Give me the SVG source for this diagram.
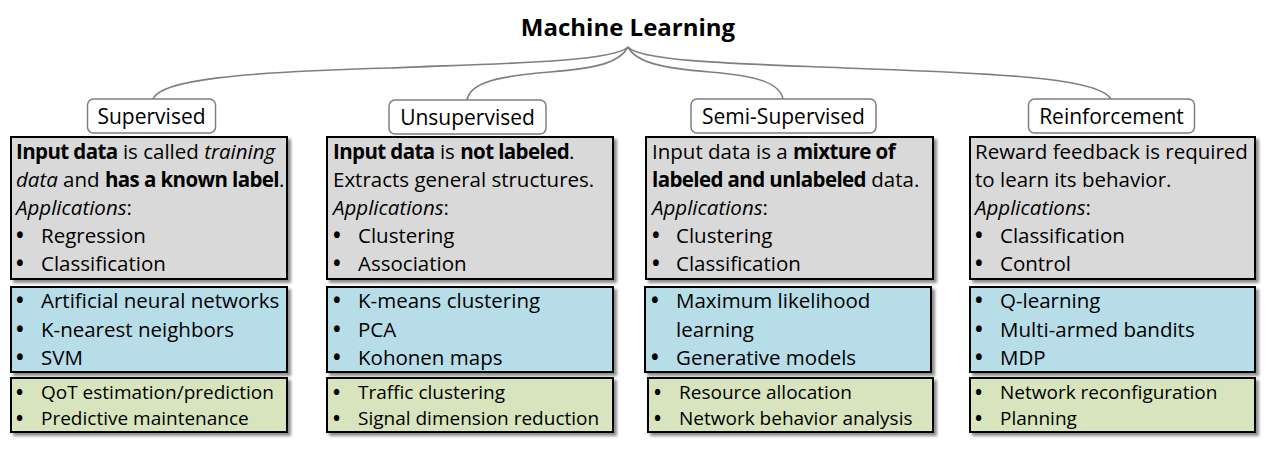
<svg xmlns="http://www.w3.org/2000/svg" width="1280" height="453" viewBox="0 0 1280 453">
<defs>
<filter id="sh" x="-5%" y="-5%" width="112%" height="120%">
<feDropShadow dx="3" dy="3" stdDeviation="1.8" flood-color="#000" flood-opacity="0.45"/>
</filter>
<style>
text{font-family:"Open Sans","Liberation Sans",sans-serif;fill:#000;}
.title{font-size:24px;font-weight:bold;text-anchor:middle;}
.lbl{font-size:21px;text-anchor:middle;}
.lbox{fill:#fff;stroke:#7f7f7f;stroke-width:1.5;}
.t{font-size:20.5px;}
.g{font-size:19px;}
.u{font-weight:bold;}
.b{font-weight:bold;letter-spacing:-0.6px;}
.i{font-style:italic;}
.gray{fill:#d9d9d9;stroke:#000;stroke-width:2;filter:url(#sh);}
.blue{fill:#b7dde8;stroke:#000;stroke-width:2;filter:url(#sh);}
.green{fill:#d7e4bd;stroke:#000;stroke-width:2;filter:url(#sh);}
.con{fill:none;stroke:#7f7f7f;stroke-width:1.6;}
</style>
</defs>
<rect width="1280" height="453" fill="#fff"/>

<g id="root"><text class="title" x="628" y="36">Machine Learning</text></g>

<g id="connectors">
<path class="con" d="M628,47 C612,63 480,64 390,68 C240,72 160,80 153,99"/>
<path class="con" d="M628,47 C620,62 600,68 550,72 C500,76 470,82 467,100"/>
<path class="con" d="M628,47 C636,62 660,68 710,72 C760,76 780,84 783,99"/>
<path class="con" d="M628,47 C642,63 760,64 870,69 C1020,74 1100,80 1111,99"/>
</g>

<g id="supervised">
<rect class="lbox" x="87.5" y="99" width="128" height="34" rx="6"/>
<text class="lbl" x="151.5" y="124">Supervised</text>
<rect class="gray" x="11" y="137" width="276" height="142"/>
<text class="t" x="16" y="159"><tspan class="b">Input data</tspan> is called <tspan class="i">training</tspan></text>
<text class="t" x="16" y="187"><tspan class="i">data</tspan> and <tspan class="b">has a known label</tspan>.</text>
<text class="t" x="16" y="215"><tspan class="i">Applications</tspan>:</text>
<text class="t" x="16" y="243"><tspan class="u">•</tspan><tspan x="41">Regression</tspan></text>
<text class="t" x="16" y="271"><tspan class="u">•</tspan><tspan x="41">Classification</tspan></text>
<rect class="blue" x="11" y="287" width="276" height="85"/>
<text class="t" x="16" y="308"><tspan class="u">•</tspan><tspan x="41">Artificial neural networks</tspan></text>
<text class="t" x="16" y="336.5"><tspan class="u">•</tspan><tspan x="41">K-nearest neighbors</tspan></text>
<text class="t" x="16" y="365"><tspan class="u">•</tspan><tspan x="41">SVM</tspan></text>
<rect class="green" x="11" y="378" width="276" height="54"/>
<text class="g" x="16" y="399"><tspan class="u">•</tspan><tspan x="41">QoT estimation/prediction</tspan></text>
<text class="g" x="16" y="425"><tspan class="u">•</tspan><tspan x="41">Predictive maintenance</tspan></text>
</g>

<g id="unsupervised">
<rect class="lbox" x="389" y="100" width="157" height="34" rx="6"/>
<text class="lbl" x="467.5" y="125">Unsupervised</text>
<rect class="gray" x="327" y="137" width="286" height="142"/>
<text class="t" x="333" y="159"><tspan class="b">Input data</tspan> is <tspan class="b">not labeled</tspan>.</text>
<text class="t" x="333" y="187">Extracts general structures.</text>
<text class="t" x="333" y="215"><tspan class="i">Applications</tspan>:</text>
<text class="t" x="333" y="243"><tspan class="u">•</tspan><tspan x="358">Clustering</tspan></text>
<text class="t" x="333" y="271"><tspan class="u">•</tspan><tspan x="358">Association</tspan></text>
<rect class="blue" x="327" y="287" width="286" height="85"/>
<text class="t" x="333" y="308"><tspan class="u">•</tspan><tspan x="358">K-means clustering</tspan></text>
<text class="t" x="333" y="336.5"><tspan class="u">•</tspan><tspan x="358">PCA</tspan></text>
<text class="t" x="333" y="365"><tspan class="u">•</tspan><tspan x="358">Kohonen maps</tspan></text>
<rect class="green" x="327" y="378" width="286" height="54"/>
<text class="g" x="333" y="399"><tspan class="u">•</tspan><tspan x="358">Traffic clustering</tspan></text>
<text class="g" x="333" y="425"><tspan class="u">•</tspan><tspan x="358">Signal dimension reduction</tspan></text>
</g>

<g id="semi-supervised">
<rect class="lbox" x="691" y="99" width="185" height="34" rx="6"/>
<text class="lbl" x="783.5" y="124">Semi-Supervised</text>
<rect class="gray" x="646" y="137" width="287" height="142"/>
<text class="t" x="652" y="159">Input data is a <tspan class="b">mixture of</tspan></text>
<text class="t" x="652" y="187"><tspan class="b">labeled and unlabeled</tspan> data.</text>
<text class="t" x="652" y="215"><tspan class="i">Applications</tspan>:</text>
<text class="t" x="652" y="243"><tspan class="u">•</tspan><tspan x="676">Clustering</tspan></text>
<text class="t" x="652" y="271"><tspan class="u">•</tspan><tspan x="676">Classification</tspan></text>
<rect class="blue" x="645" y="287" width="286" height="85"/>
<text class="t" x="651" y="308"><tspan class="u">•</tspan><tspan x="676">Maximum likelihood</tspan></text>
<text class="t" x="676" y="336.5">learning</text>
<text class="t" x="651" y="365"><tspan class="u">•</tspan><tspan x="676">Generative models</tspan></text>
<rect class="green" x="648" y="378" width="285" height="54"/>
<text class="g" x="654" y="399"><tspan class="u">•</tspan><tspan x="679">Resource allocation</tspan></text>
<text class="g" x="654" y="425"><tspan class="u">•</tspan><tspan x="679">Network behavior analysis</tspan></text>
</g>

<g id="reinforcement">
<rect class="lbox" x="1028.5" y="99" width="166" height="34" rx="6"/>
<text class="lbl" x="1111.5" y="124">Reinforcement</text>
<rect class="gray" x="970" y="137" width="285" height="142"/>
<text class="t" x="975" y="159">Reward feedback is required</text>
<text class="t" x="975" y="187">to learn its behavior.</text>
<text class="t" x="975" y="215"><tspan class="i">Applications</tspan>:</text>
<text class="t" x="975" y="243"><tspan class="u">•</tspan><tspan x="1000">Classification</tspan></text>
<text class="t" x="975" y="271"><tspan class="u">•</tspan><tspan x="1000">Control</tspan></text>
<rect class="blue" x="970" y="287" width="285" height="85"/>
<text class="t" x="975" y="308"><tspan class="u">•</tspan><tspan x="1000">Q-learning</tspan></text>
<text class="t" x="975" y="336.5"><tspan class="u">•</tspan><tspan x="1000">Multi-armed bandits</tspan></text>
<text class="t" x="975" y="365"><tspan class="u">•</tspan><tspan x="1000">MDP</tspan></text>
<rect class="green" x="970" y="378" width="285" height="54"/>
<text class="g" x="975" y="399"><tspan class="u">•</tspan><tspan x="1000">Network reconfiguration</tspan></text>
<text class="g" x="975" y="425"><tspan class="u">•</tspan><tspan x="1000">Planning</tspan></text>
</g>
</svg>
